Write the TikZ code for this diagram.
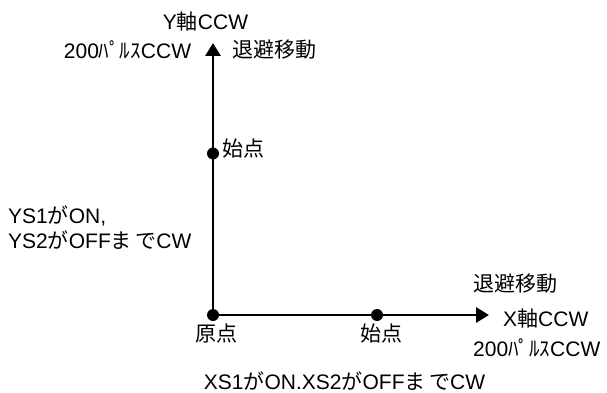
\documentclass[tikz,border=0pt]{standalone}
\usepackage{fontspec}
\setmainfont{Liberation Sans}
\newfontfamily\jp{Noto Sans CJK JP}
\usetikzlibrary{arrows.meta}
\begin{document}
\begin{tikzpicture}[x=1pt,y=-1pt,
  lbl/.style={inner sep=0pt,font=\fontsize{21}{25}\selectfont},
  axis/.style={line width=2.9pt},
  dotst/.style={circle,fill=black,inner sep=0pt,minimum size=12pt},
  tip/.style={-{Triangle[length=13pt,width=15pt]}}]
\useasboundingbox (0,0) rectangle (607,393);
\node[dotst] (org) at (213,315) {};
\node[dotst] (ys) at (213,153.5) {};
\node[dotst] (xs) at (377,315) {};
\coordinate (ytip) at (213,43);
\coordinate (xtip) at (489,315);
\draw[axis,tip] (org.center) -- (ytip);
\draw[axis,tip] (org.center) -- (xtip);
% labels
\node[lbl,anchor=base] (ylab) at (205.5,29.5) {Y{\jp 軸}CCW};
\node[lbl,anchor=base] (ypulse) at (127.5,59) {200{\jp ﾊﾟﾙｽ}CCW};
\node[lbl,anchor=base west] (yesc) at (232,58) {\jp 退避移動};
\node[lbl,anchor=base west] (ysl) at (222,156) {\jp 始点};
\node[lbl,anchor=base west] (ys1) at (8,223) {YS1{\jp が}ON,};
\node[lbl,anchor=base west] (ys2) at (8,248) {YS2{\jp が}OFF{\jp ま\,で}CW};
\node[lbl,anchor=base west] (xesc) at (473,291) {\jp 退避移動};
\node[lbl,anchor=base west] (xlab) at (503,326) {X{\jp 軸}CCW};
\node[lbl,anchor=base west] (xpulse) at (473,356.5) {200{\jp ﾊﾟﾙｽ}CCW};
\node[lbl,anchor=base] (orgl) at (216.5,341) {\jp 原点};
\node[lbl,anchor=base] (xsl) at (381,341) {\jp 始点};
\node[lbl,anchor=base] (xcond) at (344.5,389) {XS1{\jp が}ON.XS2{\jp が}OFF{\jp ま\,で}CW};
\end{tikzpicture}
\end{document}
